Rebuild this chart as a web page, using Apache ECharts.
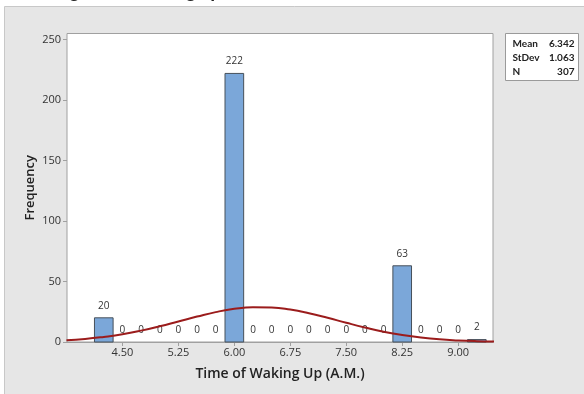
<!DOCTYPE html>
<html>
<head>
<meta charset="utf-8">
<script src="https://cdn.jsdelivr.net/npm/echarts@6/dist/echarts.min.js"></script>
<style>
html,body{margin:0;padding:0;background:#ffffff;}
#chart{width:584px;height:394px;}
</style>
</head>
<body>
<div id="chart"></div>
<script>
// ---- data ----
const titleText = 'Histogram of Waking up Time';
const xAxisTitle = 'Time of Waking Up (A.M.)';
const yAxisTitle = 'Frequency';
const binCenters = [4.25, 4.50, 4.75, 5.00, 5.25, 5.50, 5.75, 6.00, 6.25, 6.50, 6.75, 7.00, 7.25, 7.50, 7.75, 8.00, 8.25, 8.50, 8.75, 9.00, 9.25];
const frequencies = [20, 0, 0, 0, 0, 0, 0, 222, 0, 0, 0, 0, 0, 0, 0, 0, 63, 0, 0, 0, 2];
const binWidth = 0.25;
const curveX = [3.75, 4.00, 4.25, 4.50, 4.75, 5.00, 5.25, 5.50, 5.75, 6.00, 6.25, 6.50, 6.75, 7.00, 7.25, 7.50, 7.75, 8.00, 8.25, 8.50, 8.75, 9.00, 9.25, 9.50];
const curveY = [1.5, 2.5, 4.2, 6.4, 9.4, 13.0, 17.0, 21.0, 24.7, 27.4, 28.7, 28.5, 26.8, 23.8, 20.0, 15.9, 12.0, 8.5, 5.8, 3.7, 2.2, 1.3, 0.7, 0.35];
const xTickValues = [4.50, 5.25, 6.00, 6.75, 7.50, 8.25, 9.00];
const statLabels = ['Mean', 'StDev', 'N'];
const statValues = ['6.342', '1.063', '307'];

const FONT = '"Open Sans", "Noto Sans", sans-serif';
const STATFONT = 'Lato, "Open Sans", sans-serif';
const chart = echarts.init(document.getElementById('chart'), null, {renderer: 'canvas'});

const histData = binCenters.map((c, i) => [c, frequencies[i]]);
const curveData = curveX.map((x, i) => [x, curveY[i]]);

const statsChildren = [{
  type: 'rect',
  shape: {x: 0, y: 0, width: 73, height: 47},
  style: {fill: '#ffffff', stroke: '#9a9a9a', lineWidth: 1}
}];
statLabels.forEach((l, i) => {
  statsChildren.push({type: 'text', style: {text: l, x: 7, y: 10.5 + i * 14, align: 'left', verticalAlign: 'middle', font: 'bold 10px ' + STATFONT, fill: '#222'}});
  statsChildren.push({type: 'text', style: {text: statValues[i], x: 69, y: 10.5 + i * 14, align: 'right', verticalAlign: 'middle', font: 'bold 10px ' + STATFONT, fill: '#222'}});
});

const option = {
  backgroundColor: '#ffffff',
  animation: false,
  graphic: [
    {type: 'text', z: 0, left: 28, top: -16, style: {text: titleText, x: 0, y: 0, font: 'bold 16px ' + FONT, fill: '#222'}},
    {type: 'rect', z: -10, left: 4, top: 6, shape: {x: 0, y: 0, width: 590, height: 400}, style: {fill: '#e6e6e6', stroke: '#c8c8c8', lineWidth: 1}},
    {type: 'group', left: 505, top: 33, children: statsChildren}
  ],
  grid: {left: 67, right: 91, top: 33.5, bottom: 52, show: true, backgroundColor: '#ffffff', borderColor: '#a0a0a0', borderWidth: 1, z: 1},
  xAxis: {
    type: 'value', min: 3.757, max: 9.467,
    name: xAxisTitle, nameLocation: 'middle', nameGap: 25,
    nameTextStyle: {fontFamily: FONT, fontSize: 14, fontWeight: 600, color: '#222'},
    axisLine: {show: true, onZero: false, lineStyle: {color: '#a0a0a0'}},
    axisTick: {show: true, length: 4, customValues: xTickValues, lineStyle: {color: '#a0a0a0'}},
    axisLabel: {customValues: xTickValues, margin: 5, fontFamily: FONT, fontSize: 11, color: '#333', formatter: v => v.toFixed(2)},
    splitLine: {show: false}
  },
  yAxis: {
    type: 'value', min: 0, max: 255, interval: 50,
    name: yAxisTitle, nameLocation: 'middle', nameGap: 30, nameMoveOverlap: false,
    nameTextStyle: {fontFamily: FONT, fontSize: 13, fontWeight: 600, color: '#222'},
    axisLine: {show: true, lineStyle: {color: '#a0a0a0'}},
    axisTick: {show: true, length: 4, lineStyle: {color: '#a0a0a0'}},
    axisLabel: {margin: 6, fontFamily: FONT, fontSize: 11, color: '#333', showMaxLabel: false},
    splitLine: {show: false}
  },
  series: [
    {
      type: 'custom', z: 2,
      data: histData,
      renderItem: function (params, api) {
        const c = api.value(0), n = api.value(1);
        const p0 = api.coord([c - binWidth / 2, n]);
        const p1 = api.coord([c + binWidth / 2, 0]);
        const children = [];
        if (n > 0) {
          children.push({type: 'rect', shape: {x: p0[0], y: p0[1], width: p1[0] - p0[0], height: p1[1] - p0[1]},
            style: {fill: '#7ba7d9', stroke: '#47505a', lineWidth: 1}});
        }
        children.push({type: 'text', style: {text: String(n), x: (p0[0] + p1[0]) / 2, y: p0[1] - 7,
          align: 'center', verticalAlign: 'bottom', font: '10px ' + FONT, fill: '#333'}});
        return {type: 'group', children: children};
      }
    },
    {
      type: 'line', z: 3, data: curveData, smooth: true, showSymbol: false, clip: true,
      lineStyle: {color: '#9b1c1c', width: 2}
    }
  ]
};
chart.setOption(option);
</script>
</body>
</html>
